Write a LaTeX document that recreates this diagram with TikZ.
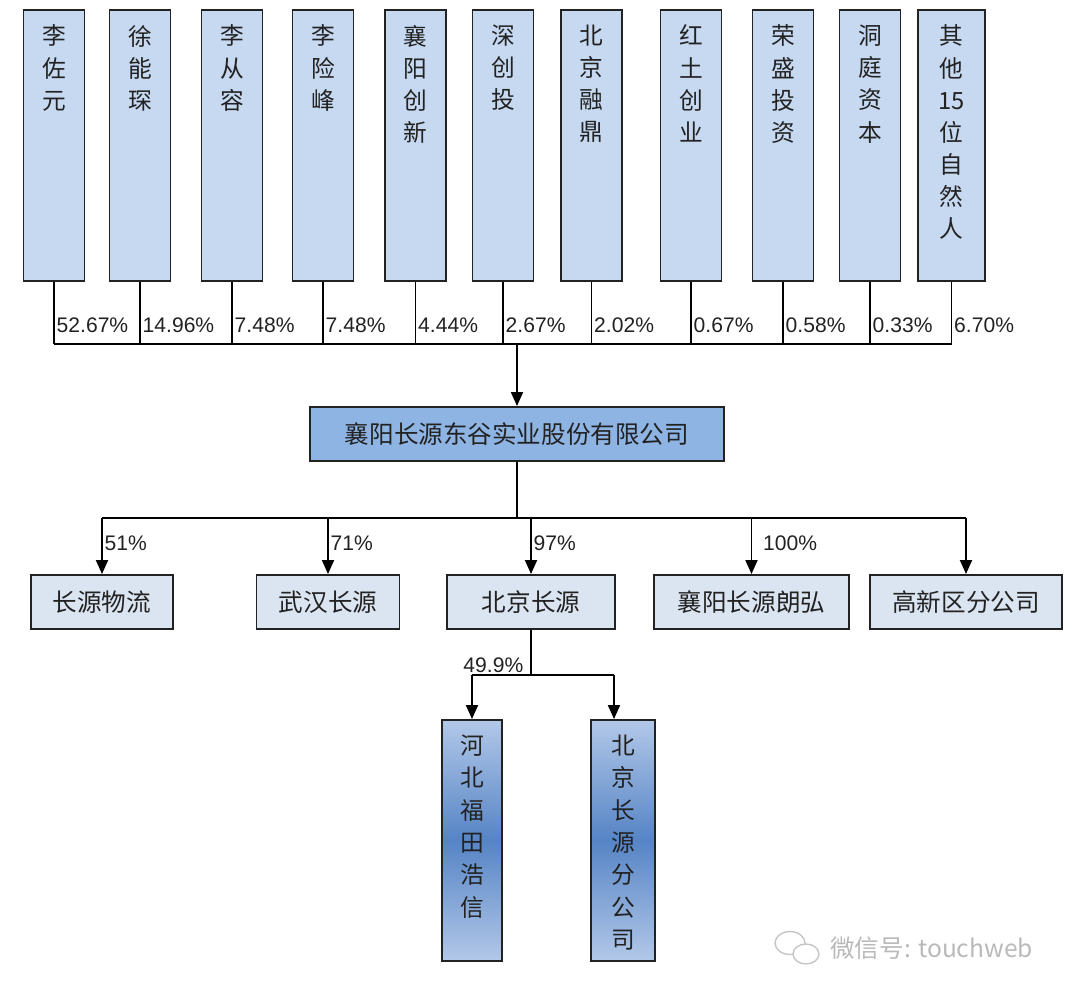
\documentclass[tikz,border=0pt]{standalone}
\usepackage{fontspec}
\setmainfont{Liberation Sans}
\newfontfamily\cjk{Noto Sans CJK SC}
\definecolor{topblue}{RGB}{198,217,241}
\definecolor{midblue}{RGB}{142,180,227}
\definecolor{subblue}{RGB}{219,229,241}
\definecolor{gradlight}{RGB}{178,200,232}
\definecolor{graddark}{RGB}{86,132,197}
\definecolor{inkgray}{RGB}{34,34,34}
\usetikzlibrary{arrows.meta, positioning}

\newcommand{\colname}[2]{\parbox[c][#1][t]{1.2cm}{\centering\vspace*{0.3cm}#2}}

\begin{document}
\begin{tikzpicture}[x=0.02cm, y=-0.02cm,
      topbox/.style={draw=inkgray, line width=1.1pt, fill=topblue, inner sep=0pt,
          minimum width=1.22cm, minimum height=5.42cm,
          font=\cjk\fontsize{13.5}{18.3}\selectfont, text=inkgray},
      mainbox/.style={draw=inkgray, line width=1.1pt, fill=midblue, inner sep=0pt,
          minimum width=8.28cm, minimum height=1.08cm,
          font=\cjk\fontsize{14}{16}\selectfont, text=inkgray},
      subbox/.style={draw=inkgray, line width=1.1pt, fill=subblue, inner sep=0pt,
          minimum height=1.08cm, font=\cjk\fontsize{14}{16}\selectfont, text=inkgray},
      gradbox/.style={draw=inkgray, line width=1.1pt, top color=gradlight,
          bottom color=gradlight, middle color=graddark, inner sep=0pt,
          minimum height=4.82cm, font=\cjk\fontsize{13.5}{18.4}\selectfont, text=inkgray},
      line/.style={line width=1.1pt, black},
      arr/.style={-{Triangle[length=0.28cm, width=0.24cm]}, line width=1.1pt, black},
      pct/.style={font=\fontsize{12}{14}\selectfont, text=inkgray, inner sep=1pt}
    ]
    \useasboundingbox (0,0) rectangle (1080,997);

    % shareholders
    \node[topbox] (lzy)  at (54,145.5)  {\colname{5.42cm}{李\\佐\\元}};
    \node[topbox] (xnc)  at (140,145.5) {\colname{5.42cm}{徐\\能\\琛}};
    \node[topbox] (lcr)  at (232,145.5) {\colname{5.42cm}{李\\从\\容}};
    \node[topbox] (lxf)  at (323,145.5) {\colname{5.42cm}{李\\险\\峰}};
    \node[topbox] (xycx) at (415.5,145.5) {\colname{5.42cm}{襄\\阳\\创\\新}};
    \node[topbox] (scst) at (503,145.5) {\colname{5.42cm}{深\\创\\投}};
    \node[topbox] (bjrd) at (591.5,145.5) {\colname{5.42cm}{北\\京\\融\\鼎}};
    \node[topbox] (htcy) at (691,145.5) {\colname{5.42cm}{红\\土\\创\\业}};
    \node[topbox] (rstz) at (783,145.5) {\colname{5.42cm}{荣\\盛\\投\\资}};
    \node[topbox] (dtzb) at (870,145.5) {\colname{5.42cm}{洞\\庭\\资\\本}};
    \node[topbox, minimum width=1.34cm] (qt) at (951.5,145.5) {\colname{5.42cm}{其\\他\\15\\位\\自\\然\\人}};

    \node[mainbox] (dg) at (517,434) {襄阳长源东谷实业股份有限公司};

    % subsidiaries
    \node[subbox, minimum width=2.84cm] (cywl)  at (102,602)   {长源物流};
    \node[subbox, minimum width=2.86cm] (whcy)  at (328,602)   {武汉长源};
    \node[subbox, minimum width=3.36cm] (bjcy)  at (531,602)   {北京长源};
    \node[subbox, minimum width=3.90cm] (lh)    at (751.5,602) {襄阳长源朗弘};
    \node[subbox, minimum width=3.84cm] (gxq)   at (966,602)   {高新区分公司};

    \node[gradbox, minimum width=1.12cm] (hbft)  at (472,840.5) {\colname{4.82cm}{河\\北\\福\\田\\浩\\信}};
    \node[gradbox, minimum width=1.28cm] (bjfgs) at (623,840.5) {\colname{4.82cm}{北\\京\\长\\源\\分\\公\\司}};

    \coordinate (bus)  at (517,344);
    \coordinate (bus2) at (517,518);
    \coordinate (bus3) at (531,675);
    \coordinate (r3)   at ([xshift=-0.18cm]bjfgs.north);

    % holdings
    \foreach \n/\p in {lzy/52.67, xnc/14.96, lcr/7.48, lxf/7.48, xycx/4.44, scst/2.67,
        bjrd/2.02, htcy/0.67, rstz/0.58, dtzb/0.33, qt/6.70}
      \draw[line] (\n.south) -- (\n.south |- bus) node[pct, pos=0.7, anchor=west] {\p\%};
    \draw[line] (lzy.south |- bus) -- (qt.south |- bus);
    \draw[arr] (bus) -- (dg.north);

    \draw[line] (dg.south) -- (bus2);
    \draw[line] (cywl.north |- bus2) -- (gxq.north |- bus2);
    \foreach \n/\p/\s in {cywl/51/0, whcy/71/0, bjcy/97/0, lh/100/0.18}
      \draw[arr] (\n.north |- bus2) -- (\n.north) node[pct, pos=0.45, anchor=west, xshift=\s cm] {\p\%};
    \draw[arr] (gxq.north |- bus2) -- (gxq.north);

    \draw[line] (bjcy.south) -- (bus3) node[pct, pos=0.78, anchor=east, xshift=-0.1cm] {49.9\%};
    \draw[line] (hbft.north |- bus3) -- (r3 |- bus3);
    \draw[arr] (hbft.north |- bus3) -- (hbft.north);
    \draw[arr] (r3 |- bus3) -- (r3);

    % watermark
    \draw[gray!45, fill=white, line width=0.8pt] (790,943) ellipse [x radius=0.3cm, y radius=0.23cm];
    \draw[gray!45, fill=white, line width=0.8pt] (806,954) ellipse [x radius=0.26cm, y radius=0.2cm];
    \node[font=\cjk\fontsize{14}{16}\selectfont, text=gray!55, anchor=west] (wm) at (824,948) {微信号: touchweb};
  \end{tikzpicture}
\end{document}
